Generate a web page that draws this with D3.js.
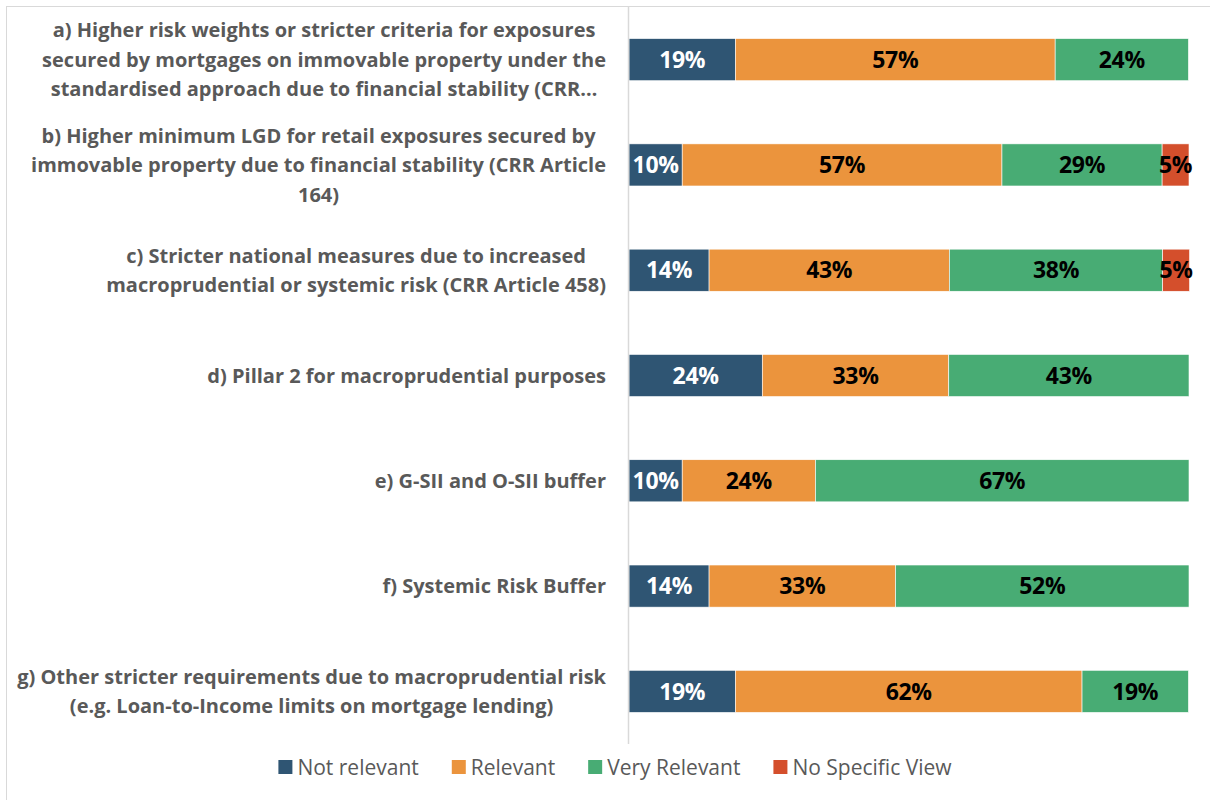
<!DOCTYPE html>
<html>
<head>
<meta charset="utf-8">
<script src="https://cdn.jsdelivr.net/npm/d3@7"></script>
<style>
  body { margin: 0; background: #fff; }
  text { font-family: "Open Sans", sans-serif; }
</style>
</head>
<body>
<script>
// categories, each label wrapped as in the original chart
const categories = ['a', 'b', 'c', 'd', 'e', 'f', 'g']
const labelLines = [
  ['a) Higher risk weights or stricter criteria for exposures',
   'secured by mortgages on immovable property under the',
   'standardised approach due to financial stability (CRR…'],
  ['b) Higher minimum LGD for retail exposures secured by',
   'immovable property due to financial stability (CRR Article',
   '164)'],
  ['c) Stricter national measures due to increased',
   'macroprudential or systemic risk (CRR Article 458)'],
  ['d) Pillar 2 for macroprudential purposes'],
  ['e) G-SII and O-SII buffer'],
  ['f) Systemic Risk Buffer'],
  ['g) Other stricter requirements due to macroprudential risk',
   '(e.g. Loan-to-Income limits on mortgage lending)']
]

// shares in percent
const notRelevant = [19.0, 9.5, 14.3, 23.8, 9.5, 14.3, 19.0]
const relevant = [57.1, 57.1, 42.9, 33.3, 23.8, 33.3, 61.9]
const veryRelevant = [23.8, 28.6, 38.1, 42.9, 66.7, 52.4, 19.0]
const noView = [0, 4.8, 4.8, 0, 0, 0, 0]

const seriesNames = ['Not relevant', 'Relevant', 'Very Relevant', 'No Specific View']
const seriesColors = ['#2f5573', '#eb943d', '#48ac74', '#d44f2c']
const labelColors = ['#fff', '#000', '#000', '#000']

const W = 1210, H = 800

const rows = categories.map((c, i) => ({
  cat: c,
  'Not relevant': notRelevant[i],
  'Relevant': relevant[i],
  'Very Relevant': veryRelevant[i],
  'No Specific View': noView[i]
}))

const stacked = d3.stack().keys(seriesNames)(rows)

const x = d3.scaleLinear().domain([0, 100]).range([629, 1189])
const y = d3.scaleBand().domain(categories).range([7, 744])
  .paddingInner(0.6).paddingOuter(0.3)

const svg = d3.select('body').append('svg')
  .attr('width', W).attr('height', H)

// chart border
svg.append('rect')
  .attr('x', 6.5).attr('y', 6.5)
  .attr('width', W).attr('height', H)
  .attr('fill', 'none').attr('stroke', '#d9d9d9')

// bars
const layer = svg.selectAll('g.layer')
  .data(stacked)
  .enter().append('g')
  .attr('class', 'layer')
  .attr('fill', (d, i) => seriesColors[i])

layer.selectAll('rect')
  .data(d => d)
  .enter().append('rect')
  .attr('x', d => x(d[0]))
  .attr('y', d => y(d.data.cat))
  .attr('width', d => Math.max(0, x(d[1]) - x(d[0])))
  .attr('height', y.bandwidth())
  .attr('stroke', '#fff')
  .attr('stroke-width', 0.6)

// value labels
layer.each(function (s, si) {
  d3.select(this).selectAll('text')
    .data(s.filter(d => d[1] - d[0] > 0))
    .enter().append('text')
    .attr('x', d => (x(d[0]) + x(d[1])) / 2)
    .attr('y', d => y(d.data.cat) + y.bandwidth() / 2)
    .attr('dy', '0.36em')
    .attr('text-anchor', 'middle')
    .attr('fill', labelColors[si])
    .style('font-size', '23px')
    .style('font-weight', 'bold')
    .style('letter-spacing', '-0.3px')
    .text(d => Math.round(d[1] - d[0]) + '%')
})

// vertical axis line
svg.append('line')
  .attr('x1', 628.5).attr('x2', 628.5)
  .attr('y1', 7).attr('y2', 744)
  .attr('stroke', '#d9d9d9').attr('stroke-width', 1.5)

// category labels: block right aligned, lines centred inside the block
const lineH = 29.5
const labelRight = 606
categories.forEach((c, i) => {
  const lines = labelLines[i]
  const g = svg.append('g')
  const cy = y(c) + y.bandwidth() / 2
  const t = g.selectAll('text')
    .data(lines)
    .enter().append('text')
    .attr('y', (d, k) => cy + (k - (lines.length - 1) / 2) * lineH)
    .attr('dy', '0.36em')
    .attr('text-anchor', 'middle')
    .attr('fill', '#595959')
    .style('font-size', '20px')
    .style('font-weight', 'bold')
    .text(d => d)
  let maxW = 0
  t.each(function () { maxW = Math.max(maxW, this.getComputedTextLength()) })
  t.attr('x', labelRight - maxW / 2)
})

// legend
const legend = svg.append('g')
let lx = 0
seriesNames.forEach((n, i) => {
  const item = legend.append('g').attr('transform', 'translate(' + lx + ',0)')
  item.append('rect')
    .attr('x', 0).attr('y', -7)
    .attr('width', 14).attr('height', 14)
    .attr('fill', seriesColors[i])
  const t = item.append('text')
    .attr('x', 19).attr('y', 0).attr('dy', '0.36em')
    .attr('fill', '#595959')
    .style('font-size', '21px')
    .text(n)
  lx += 19 + t.node().getComputedTextLength() + 33
})
const legendW = lx - 33
legend.attr('transform', 'translate(' + (615 - legendW / 2) + ',767)')
</script>
</body>
</html>
